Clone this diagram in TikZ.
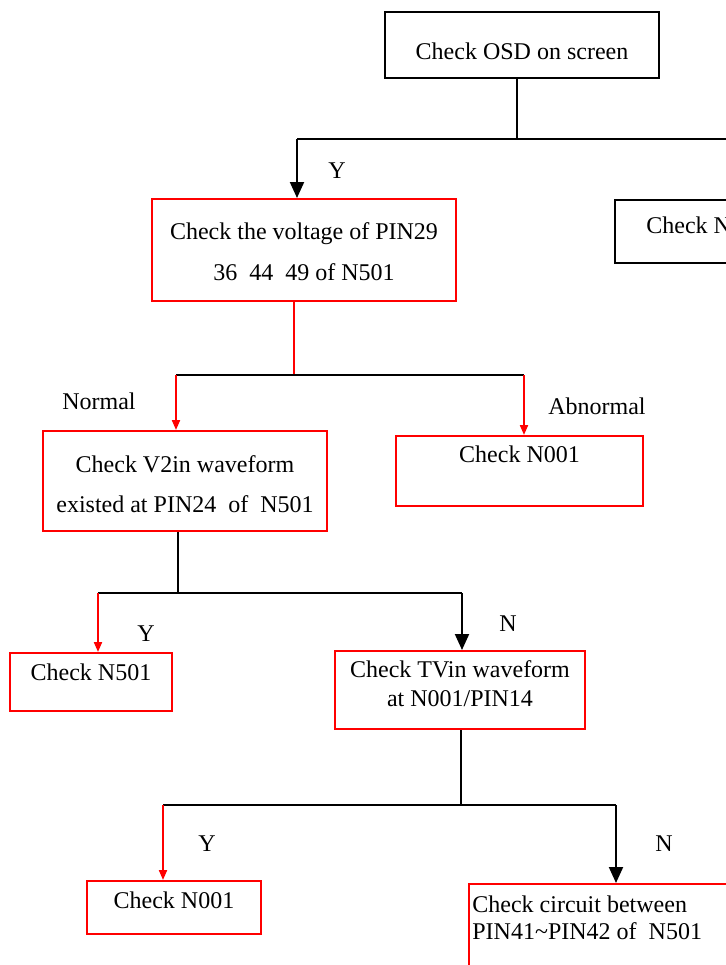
\documentclass[tikz,border=0pt]{standalone}
\usepackage{fontspec}
\setmainfont{Liberation Serif}
\usetikzlibrary{arrows.meta}

\begin{document}
\begin{tikzpicture}[x=0.5pt,y=-0.5pt,
	box/.style={draw=black,line width=1pt,inner sep=0pt},
	redbox/.style={box,draw=red},
	txt/.style={inner sep=0pt,font=\fontsize{12}{14}\selectfont},
	link/.style={line width=1pt},
	bigarrow/.style={link,-{Triangle[width=7pt,length=8pt]}},
	redarrow/.style={link,red,-{Triangle[width=4pt,length=5pt]}}]
\useasboundingbox (0,0) rectangle (726,965);
\clip (0,0) rectangle (726,965);

% boxes
\node[box,minimum width=137pt,minimum height=33pt] (osd) at (522,45) {};
\node[box,minimum width=110pt,minimum height=31.5pt] (side) at (725,231.5) {};
\node[redbox,minimum width=152pt,minimum height=51pt] (volt) at (304,250) {};
\node[redbox,minimum width=142pt,minimum height=50pt] (wave) at (185,481) {};
\node[redbox,minimum width=123.5pt,minimum height=35pt] (abn) at (519.5,471) {};
\node[redbox,minimum width=81pt,minimum height=29pt] (nfive) at (91,682) {};
\node[redbox,minimum width=125pt,minimum height=39pt] (tvin) at (460,690) {};
\node[redbox,minimum width=87pt,minimum height=26.5pt] (nzero) at (174,907.5) {};
\node[redbox,minimum width=145.5pt,minimum height=58pt] (circ) at (614.5,942) {};

% texts
\node[txt] (osdt) at (522,51) {Check OSD on screen};
\node[txt,anchor=west] (sidet) at (646,225) {Check N};
\node[txt,align=center,font=\fontsize{12}{20.5}\selectfont] (voltt) at (304,251.5)
	{Check the voltage of PIN29\\36\ \ 44\ \ 49 of N501};
\node[txt,align=center,font=\fontsize{12}{20}\selectfont] (wavet) at (185,484)
	{Check V2in waveform\\existed at PIN24\ \ of\ \ N501};
\node[txt] (abnt) at (519.5,454) {Check N001};
\node[txt] (nfivet) at (91,672) {Check N501};
\node[txt,align=center,font=\fontsize{12}{14.5}\selectfont] (tvint) at (460,683.5)
	{Check TVin waveform\\at N001/PIN14};
\node[txt] (nzerot) at (174,900) {Check N001};
\node[txt,anchor=west,align=left,font=\fontsize{12}{13.5}\selectfont] (circt) at (472,917.5)
	{Check circuit between\\PIN41\textasciitilde PIN42 of\ \ N501};

% junctions
\coordinate (ja) at (517,139);
\coordinate (jal) at (297,139);
\coordinate (jar) at (760,139);
\coordinate (jb) at (294,375);
\coordinate (jbl) at (176,375);
\coordinate (jbr) at (524,375);
\coordinate (jc) at (178,593);
\coordinate (jcl) at (98,593);
\coordinate (jcr) at (462,593);
\coordinate (jd) at (461,805);
\coordinate (jdl) at (163,805);
\coordinate (jdr) at (616,805);

\draw[link] (osd.south -| ja) -- (ja);
\draw[link] (jal) -- (jar);
\draw[bigarrow] (jal) -- (volt.north -| jal);

\draw[link,red] (volt.south -| jb) -- (jb);
\draw[link] (jbl) -- (jbr);
\draw[redarrow] (jbl) -- (wave.north -| jbl);
\draw[redarrow] (jbr) -- (abn.north -| jbr);

\draw[link] (wave.south -| jc) -- (jc);
\draw[link] (jcl) -- (jcr);
\draw[redarrow] (jcl) -- (nfive.north -| jcl);
\draw[bigarrow] (jcr) -- (tvin.north -| jcr);

\draw[link] (tvin.south -| jd) -- (jd);
\draw[link] (jdl) -- (jdr);
\draw[redarrow] (jdl) -- (nzero.north -| jdl);
\draw[bigarrow] (jdr) -- (circ.north -| jdr);

% branch labels
\node[txt] (ya) at (337,171) {Y};
\node[txt] (normal) at (99,401) {Normal};
\node[txt] (abnormal) at (597,406) {Abnormal};
\node[txt] (yc) at (146,634) {Y};
\node[txt] (nc) at (508,624) {N};
\node[txt] (yd) at (207,844) {Y};
\node[txt] (nd) at (664,844) {N};
\end{tikzpicture}
\end{document}
